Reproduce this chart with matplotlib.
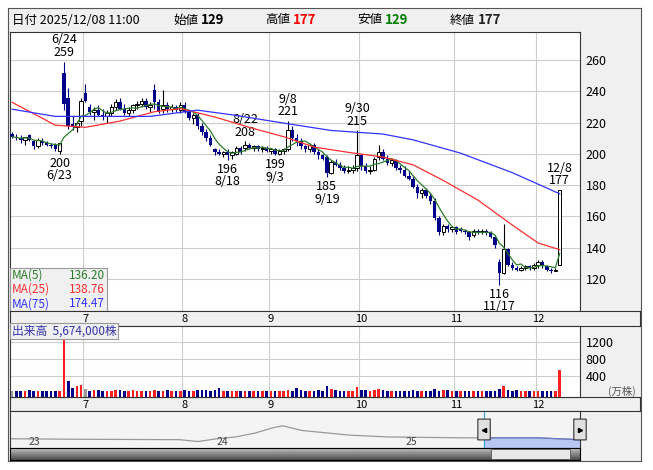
import matplotlib.pyplot as plt
import matplotlib.patches as mpatches
import numpy as np
import pandas as pd

plt.rcParams['font.family'] = ['Noto Sans CJK JP', 'DejaVu Sans']

# daily OHLC, 2025/06/09 .. 2025/12/08 (index = trading day)
ohlc = [
    (213, 214, 210, 211), (211, 213, 209, 210), (210, 212, 207, 209), (209, 211, 206, 211),
    (212, 213, 208, 209), (208, 209, 203, 205), (205, 210, 204, 209), (208, 210, 206, 207),
    (207, 208, 205, 206), (206, 207, 204, 205), (206, 207, 202, 203), (202, 207, 200, 207),
    (252, 259, 228, 232), (236, 242, 216, 218), (219, 224, 215, 217), (217, 221, 214, 220),
    (221, 236, 218, 234), (239, 245, 233, 234), (230, 232, 225, 227), (227, 230, 222, 228),
    (228, 231, 224, 225), (225, 229, 222, 224), (224, 228, 220, 226), (226, 232, 224, 230),
    (230, 235, 228, 233), (233, 236, 228, 229), (229, 232, 225, 226), (226, 230, 224, 228),
    (228, 232, 226, 231), (231, 234, 229, 232), (232, 236, 230, 234), (234, 236, 229, 230),
    (230, 233, 227, 231), (241, 245, 229, 233), (233, 235, 226, 227), (229, 241, 226, 231),
    (231, 233, 227, 229), (229, 232, 227, 230), (230, 231, 227, 228), (228, 233, 226, 231),
    (231, 233, 226, 227), (227, 229, 222, 223), (223, 226, 219, 225), (225, 226, 216, 218),
    (218, 220, 212, 214), (214, 216, 208, 210), (210, 212, 205, 206), (203, 204, 199, 201),
    (201, 203, 199, 200), (200, 202, 198, 201), (201, 203, 196, 199), (199, 202, 197, 201),
    (200, 205, 199, 204), (204, 205, 200, 201), (204, 208, 202, 206), (206, 207, 203, 204),
    (204, 206, 202, 205), (205, 206, 202, 203), (203, 205, 201, 204), (204, 205, 201, 202),
    (202, 204, 200, 203), (203, 204, 199, 200), (200, 203, 199, 202), (202, 204, 200, 203),
    (203, 221, 202, 215), (215, 218, 208, 210), (210, 213, 205, 208), (208, 210, 203, 205),
    (205, 206, 201, 203), (203, 207, 201, 206), (206, 207, 200, 201), (201, 203, 197, 199),
    (199, 200, 196, 197), (198, 199, 185, 188), (188, 196, 187, 195), (195, 197, 192, 193),
    (193, 195, 190, 191), (191, 193, 188, 189), (189, 192, 188, 190), (190, 193, 188, 191),
    (191, 215, 189, 199), (199, 200, 190, 192), (192, 194, 188, 189), (189, 192, 187, 190),
    (190, 198, 189, 197), (198, 206, 196, 201), (201, 203, 196, 197), (197, 199, 193, 194),
    (194, 197, 192, 196), (196, 197, 190, 191), (191, 193, 188, 190), (190, 192, 185, 186),
    (186, 189, 183, 184), (184, 186, 178, 179), (179, 181, 172, 175), (175, 178, 172, 177),
    (177, 178, 172, 173), (173, 175, 168, 170), (170, 172, 158, 159), (159, 160, 148, 150),
    (150, 155, 148, 154), (154, 155, 150, 152), (152, 154, 150, 153), (153, 154, 149, 150),
    (152, 153, 150, 151), (151, 152, 149, 150), (150, 151, 145, 147), (148, 152, 147, 151),
    (151, 152, 149, 150), (150, 152, 149, 151), (151, 152, 148, 150), (150, 151, 146, 147),
    (147, 148, 140, 142), (131, 133, 116, 124), (124, 155, 123, 139), (139, 140, 128, 129),
    (129, 131, 126, 127), (127, 128, 125, 126), (126, 128, 125, 127), (127, 129, 126, 128),
    (128, 129, 126, 127), (127, 130, 126, 129), (129, 132, 127, 131), (131, 132, 127, 128),
    (128, 129, 125, 126), (126, 127, 124, 125), (125, 127, 125, 126), (129, 177, 129, 177),
]

# volume in 万株
volume = [
    70, 70, 55, 60, 80, 60, 55, 70, 55, 55, 60, 65, 1250, 300, 120, 180, 190, 110,
    70, 80, 80, 70, 55, 60, 75, 80, 65, 55, 80, 70, 60, 55, 60, 80, 70, 65, 75, 60,
    55, 70, 80, 60, 70, 85, 75, 90, 70, 80, 130, 70, 60, 50, 70, 60, 60, 55, 55, 50,
    60, 55, 70, 60, 55, 60, 80, 60, 120, 75, 60, 60, 60, 75, 70, 170, 100, 80, 60,
    70, 60, 50, 150, 80, 80, 60, 90, 95, 80, 60, 70, 60, 70, 55, 70, 80, 55, 70, 60,
    70, 95, 70, 90, 85, 70, 60, 60, 60, 55, 60, 70, 70, 60, 65, 60, 100, 180, 90, 70,
    75, 65, 55, 60, 55, 55, 60, 55, 60, 60, 540,
]

month_idx = [17, 40, 60, 81, 103, 122]
month_lbl = ['7', '8', '9', '10', '11', '12']

ma25_pts = [(0, 233), (10, 218.4), (17, 217), (25, 221), (33, 227), (39, 229),
            (47, 223.6), (55, 217), (63, 211), (70, 204.4), (78, 201), (86, 198),
            (93, 193), (100, 183), (108, 170.5), (116, 154.5), (122, 143), (127, 138.76)]
ma75_pts = [(0, 228.6), (10, 224), (32, 224), (43, 228), (51, 225), (63, 219.7),
            (74, 215), (86, 212.7), (93, 209), (104, 200.5), (116, 188), (127, 174.47)]

nav_years = [2022.9, 2023.2, 2023.8, 2023.9, 2024.0, 2024.1, 2024.2, 2024.3, 2024.35,
             2024.45, 2024.55, 2024.7, 2024.9, 2025.3, 2025.7, 2025.93]
nav_vals = [200, 198, 196, 188, 200, 208, 224, 248, 256, 236, 228, 216, 208, 204, 204, 196]

hi_lo = [(12, 259, '6/24', 'hi'), (11, 200, '6/23', 'lo'), (54, 208, '8/22', 'hi'),
         (50, 196, '8/18', 'lo'), (64, 221, '9/8', 'hi'), (61, 199, '9/3', 'lo'),
         (80, 215, '9/30', 'hi'), (73, 185, '9/19', 'lo'), (113, 116, '11/17', 'lo'),
         (127, 177, '12/8', 'hi')]

W, H = 653, 470
o = np.array([r[0] for r in ohlc], float)
h = np.array([r[1] for r in ohlc], float)
l = np.array([r[2] for r in ohlc], float)
c = np.array([r[3] for r in ohlc], float)
x = np.arange(len(ohlc))
ma5 = pd.Series(c).rolling(5, min_periods=1).mean()

fig = plt.figure(figsize=(W / 100, H / 100), dpi=100)
fig.patch.set_facecolor('white')


def box(x0, y0, x1, y1):
    return [x0 / W, 1 - y1 / H, (x1 - x0) / W, (y1 - y0) / H]


# outer gray frame
bg = fig.add_axes(box(8, 8, 641, 461))
bg.set_facecolor('#f0f0f0')
bg.set_xticks([]); bg.set_yticks([])
for s in bg.spines.values():
    s.set_color('#555555')

NAVY = '#000088'
XL = (-0.5, 131.7)

# header
fig.text(12 / W, 1 - 20 / H, '日付 2025/12/08 11:00', fontsize=9, va='center')
fig.text(173 / W, 1 - 20 / H, '始値', fontsize=9, va='center')
fig.text(201 / W, 1 - 20 / H, '129', fontsize=9.5, fontweight='bold', va='center')
for xx, lab, val, col in [(265, '高値', '177', 'red'), (357, '安値', '129', 'green'),
                          (450, '終値', '177', '#222222')]:
    fig.text(xx / W, 1 - 20 / H, lab, fontsize=9, va='center')
    fig.text((xx + 28) / W, 1 - 20 / H, val, fontsize=9.5, fontweight='bold', color=col, va='center')

# price panel
ax = fig.add_axes(box(10, 32, 580, 311))
ax.set_facecolor('white')
ax.set_xlim(*XL)
ax.set_ylim(99.5, 278)
for m in month_idx:
    ax.axvline(m - 0.5, color='#cccccc', lw=0.8, zorder=0)
for p in range(120, 280, 20):
    ax.axhline(p, color='#cccccc', lw=0.8, zorder=0)
up = c >= o
ax.vlines(x, l, h, color=np.where(up, 'black', NAVY), lw=0.8, zorder=2)
bh = np.maximum(np.abs(c - o), 0.5)
ax.bar(x[up], bh[up], bottom=np.minimum(o, c)[up], width=0.8, facecolor='white',
       edgecolor='black', lw=0.7, zorder=3)
ax.bar(x[~up], bh[~up], bottom=np.minimum(o, c)[~up], width=0.8, color=NAVY, zorder=3)
ax.plot(x, ma5, color='#2a7d2a', lw=0.9, zorder=4)
ax.plot(*zip(*ma25_pts), color='#ff3030', lw=0.9, zorder=4)
ax.plot(*zip(*ma75_pts), color='#3333ff', lw=0.9, zorder=4)
for i, v, d, kind in hi_lo:
    if kind == 'hi':
        ax.annotate(f'{d}\n{v}', (i, v), xytext=(0, 2), textcoords='offset points',
                    ha='center', va='bottom', fontsize=9, linespacing=0.95)
    else:
        ax.annotate(f'{v}\n{d}', (i, v), xytext=(0, -2), textcoords='offset points',
                    ha='center', va='top', fontsize=9, linespacing=0.95)
ax.yaxis.tick_right()
ax.set_yticks(range(120, 280, 20))
ax.tick_params(axis='y', length=0, pad=4, labelsize=9)
ax.set_xticks([])
for s in ax.spines.values():
    s.set_color('#333333'); s.set_linewidth(0.8)

# MA legend
leg = fig.add_axes(box(10, 268, 107, 311))
leg.set_facecolor('#f0f0f0'); leg.set_xticks([]); leg.set_yticks([])
for s in leg.spines.values():
    s.set_color('#999999')
for k, (lab, val, col) in enumerate([('MA(5)', '136.20', '#2a7d2a'),
                                     ('MA(25)', '138.76', '#ff3030'),
                                     ('MA(75)', '174.47', '#3333ff')]):
    yy = 0.83 - k * 0.33
    leg.text(0.02, yy, lab, color=col, fontsize=8.5, va='center', transform=leg.transAxes)
    leg.text(0.98, yy, val, color=col, fontsize=8.5, va='center', ha='right', transform=leg.transAxes)

# month strips
for y0, y1 in [(311, 326), (397, 411)]:
    st = fig.add_axes(box(10, y0, 640, y1))
    st.set_facecolor('#f0f0f0')
    st.set_xlim(XL[0], XL[0] + (XL[1] - XL[0]) * 630 / 570)
    st.set_ylim(0, 1)
    st.set_xticks([]); st.set_yticks([])
    for s in st.spines.values():
        s.set_color('#333333'); s.set_linewidth(0.8)
    for m, lab in zip(month_idx, month_lbl):
        st.text(m, 0.45, lab, fontsize=8, ha='center', va='center')

# volume panel
av = fig.add_axes(box(10, 326, 580, 397))
av.set_facecolor('white')
av.set_xlim(*XL)
vbase = -80
av.set_ylim(vbase, 1560)
prev = np.r_[c[0], c[:-1]]
vcol = np.where(c > prev, '#ff2020', np.where(c < prev, NAVY, '#999999'))
for m in month_idx:
    av.axvline(m - 0.5, color='#cccccc', lw=0.8, zorder=0)
for p in (400, 800, 1200):
    av.axhline(p, color='#cccccc', lw=0.8, zorder=0)
av.bar(x, np.array(volume) - vbase, bottom=vbase, width=0.6, color=vcol, zorder=2)
av.yaxis.tick_right()
av.set_yticks([400, 800, 1200])
av.tick_params(axis='y', length=0, pad=4, labelsize=9)
av.set_xticks([])
for s in av.spines.values():
    s.set_color('#333333'); s.set_linewidth(0.8)
fig.text(608 / W, 1 - 391 / H, '(万株)', fontsize=7.5, color='#555555', va='center')
fig.text(12 / W, 1 - 331 / H, '出来高  5,674,000株', fontsize=8.5, color='#3333aa', va='center',
         bbox=dict(facecolor='#f0f0f0', edgecolor='#999999', pad=1.2, lw=0.8))

# navigator
an = fig.add_axes(box(10, 411, 580, 448))
an.set_facecolor('#f4f4f4')
an.set_xlim(2022.9, 2025.93)
an.set_ylim(160, 320)
an.set_xticks([]); an.set_yticks([])
for s in an.spines.values():
    s.set_color('#333333'); s.set_linewidth(0.8)
an.plot(nav_years, nav_vals, color='#999999', lw=0.9)
sel0 = 2025.42
msk = np.array(nav_years) >= sel0
xs = [sel0] + list(np.array(nav_years)[msk])
ys = [np.interp(sel0, nav_years, nav_vals)] + list(np.array(nav_vals)[msk])
an.fill_between(xs, 160, ys, color='#b8c8f4')
an.plot(xs, ys, color='#6677cc', lw=0.9)
an.axvline(sel0, color='#33aadd', lw=0.8)
for yr, lab in [(2023.0, '23'), (2024.0, '24'), (2025.0, '25')]:
    an.text(yr, 188, lab, fontsize=7.5, color='#444444', va='center', ha='left')
for xx, mk in [(sel0, '<'), (2025.93, '>')]:
    an.add_patch(mpatches.FancyBboxPatch((xx - 0.028, 195), 0.056, 90,
                 boxstyle='round,pad=0.005', facecolor='#e0e0e0', edgecolor='#333333',
                 lw=0.8, clip_on=False, zorder=5))
    an.plot(xx, 240, marker=mk, color='black', ms=3, zorder=6, clip_on=False)

# scrollbar
sb = fig.add_axes(box(10, 448, 580, 460))
sb.imshow(np.linspace(0.75, 0.3, 20).reshape(-1, 1), cmap='gray', aspect='auto',
          extent=(0, 1, 0, 1), vmin=0, vmax=1)
sb.add_patch(mpatches.Rectangle((0.843, 0.05), 0.14, 0.9, facecolor='#e8e8e8',
                                edgecolor='#555555', lw=0.6))
sb.set_xlim(0, 1); sb.set_ylim(0, 1)
sb.set_xticks([]); sb.set_yticks([])

fig.savefig('out.png', dpi=100)
